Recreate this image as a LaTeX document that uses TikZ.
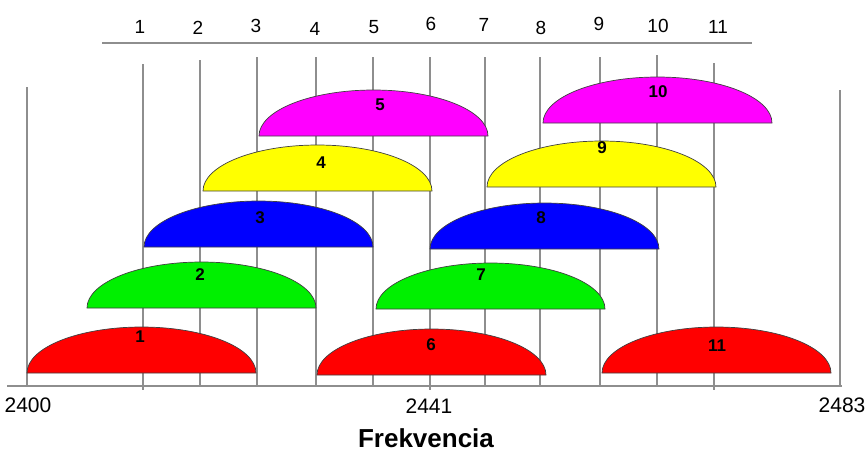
\documentclass[tikz,border=0pt]{standalone}
\usepackage{fontspec}
\setmainfont{Liberation Sans}
\usepackage{tikz}
\definecolor{gridgray}{HTML}{8E8E8E}
\definecolor{chred}{HTML}{FF0000}
\definecolor{chgreen}{HTML}{00F000}
\definecolor{chblue}{HTML}{0000FF}
\definecolor{chyellow}{HTML}{FFFF00}
\definecolor{chmagenta}{HTML}{FF00FF}
\tikzset{
    % style for the grey lines of the scale and the grid
    grid line/.style={draw=gridgray, line width=1.5pt},
    % style for one channel, drawn as a half ellipse
    channel/.style={draw=black!75, line width=0.7pt},
    % style for the number inside a channel
    chan label/.style={font=\fontsize{17}{17}\selectfont\bfseries, inner sep=0pt},
    % style for the channel numbers above the scale
    top label/.style={font=\fontsize{19}{19}\selectfont, inner sep=0pt},
    % style for the frequencies under the axis
    freq label/.style={font=\fontsize{21}{21}\selectfont, inner sep=0pt}
}
\begin{document}
\begin{tikzpicture}[x=1pt, y=-1pt]
    \useasboundingbox (0,0) rectangle (865,451);
    % scale with the channel numbers
    \draw[grid line] (102,43) -- (752,43);
    \foreach \n/\x/\y in {1/140/27, 2/198/28, 3/256/26, 4/315/29, 5/374/27, 6/431/24,
                          7/484/25, 8/541/28, 9/599/24, 10/658/26, 11/718/27} {
        \node[top label] (num\n) at (\x,\y) {\n};
    }
    % grid lines, behind the channels
    \foreach \x/\t/\e in {143/64/390, 200/60/386, 257/57/386, 316/57/386, 373/57/386, 430/57/390,
                          485/57/386, 540/57/386, 600/57/386, 657/55/386, 714/63/390} {
        \draw[grid line] (\x,\t) -- (\x,\e);
    }
    \draw[grid line] (27,87) -- (27,386);
    \draw[grid line] (840,90) -- (840,386);
    \draw[grid line] (7,386) -- (842,386);
    % channels: number / left end / base / colour / label position
    \foreach \n/\l/\b/\c/\lx/\ly in {
            1/27/373/chred/140/337,    6/317/375/chred/431/345,    11/602/373/chred/717/346,
            2/87/308/chgreen/200/275,  7/376/309/chgreen/481/275,
            3/144/247/chblue/260/218,  8/430/249/chblue/541/218,
            4/203/191/chyellow/321/163, 9/487/187/chyellow/602/148,
            5/259/136/chmagenta/380/105, 10/543/123/chmagenta/658/92} {
        \draw[channel, fill=\c] (\l,\b)
            arc[start angle=180, end angle=0, x radius=114.5pt, y radius=46pt] -- cycle;
        \node[chan label] (ch\n) at (\lx,\ly) {\n};
    }
    % frequencies
    \node[freq label] (f2400) at (28,405) {2400};
    \node[freq label] (f2441) at (429,406) {2441};
    \node[freq label] (f2483) at (842,405) {2483};
    \node[font=\fontsize{26}{26}\selectfont\bfseries, inner sep=0pt] (axis) at (426,438) {Frekvencia};
\end{tikzpicture}
\end{document}
